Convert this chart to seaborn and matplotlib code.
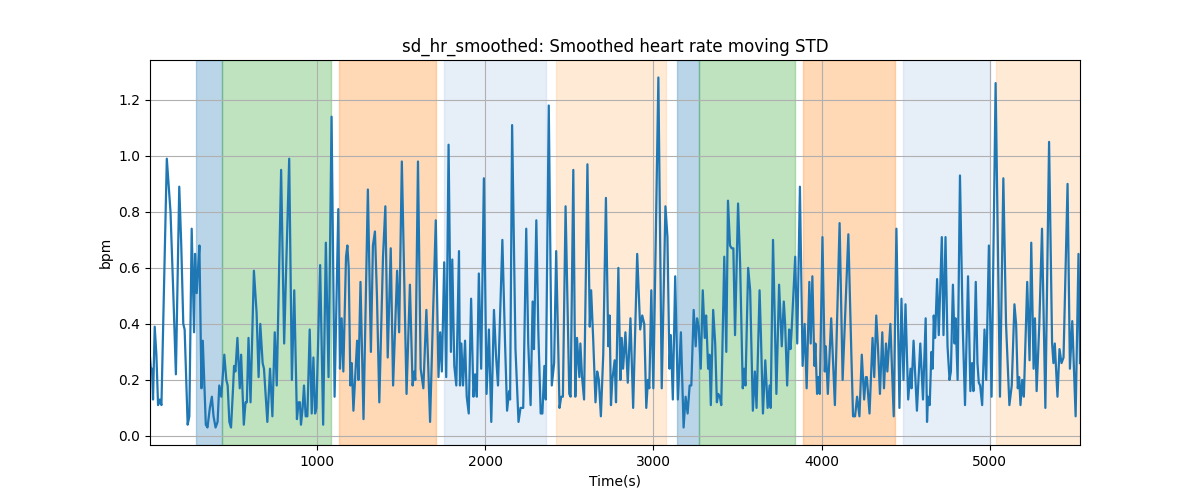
import numpy as np
import pandas as pd
import matplotlib
matplotlib.use("Agg")
import matplotlib.pyplot as plt
import seaborn as sns

# ---- data ----
time_s = [
    5, 10, 17, 23, 33, 43, 53, 63, 73, 105, 127, 143, 159, 179, 191, 203, 211, 229, 239, 253,
    267, 273, 283, 291, 299, 311, 319, 337, 347, 361, 373, 383, 395, 407, 417, 429, 447, 459, 467, 477,
    487, 499, 505, 513, 525, 539, 547, 563, 573, 581, 591, 603, 623, 639, 651, 661, 675, 683, 703, 719,
    733, 747, 759, 785, 803, 815, 833, 849, 863, 879, 889, 897, 903, 913,
    921, 931, 941, 955, 967, 977, 987, 995, 1017, 1035, 1051, 1067, 1085, 1103, 1125, 1135, 1145, 1155,
    1171, 1179, 1187, 1197, 1205, 1215, 1227, 1237, 1245, 1257, 1275, 1301, 1319, 1331, 1343, 1355, 1369,
    1391, 1405, 1419, 1437, 1451, 1475, 1487, 1503, 1531, 1551, 1567, 1577, 1583, 1599, 1615, 1631,
    1649, 1671, 1687, 1705, 1721, 1731, 1741, 1755, 1767, 1781, 1795, 1803, 1815, 1827, 1843,
    1849, 1857, 1867, 1879, 1889, 1901, 1915, 1929, 1939, 1949, 1961, 1975, 1991, 2007, 2021, 2035, 2051,
    2063, 2075, 2101, 2117, 2129, 2141, 2147, 2159, 2179, 2197, 2209, 2225, 2243, 2255, 2269, 2281, 2289,
    2303, 2315, 2329, 2339, 2351, 2359, 2377, 2395, 2409, 2421, 2441, 2451, 2461, 2477, 2499, 2507, 2523,
    2535, 2545, 2559, 2565, 2575, 2587, 2607, 2621, 2629, 2641, 2655, 2665, 2675, 2687, 2701, 2717, 2731,
    2739, 2747, 2755, 2769,
    2777, 2791, 2803, 2811, 2819, 2833, 2847, 2863, 2879, 2903, 2921, 2933, 2945, 2957, 2967, 2975, 2987,
    2999, 3029, 3049, 3071, 3083, 3095, 3103, 3115, 3129, 3145, 3163, 3179, 3191, 3203, 3215, 3225, 3239,
    3251, 3259, 3269, 3281, 3293, 3305, 3313, 3325, 3333, 3341, 3355, 3367, 3377, 3385, 3395, 3403, 3421,
    3433, 3443, 3455, 3465, 3475, 3485, 3503, 3515, 3531, 3539, 3547, 3563, 3575, 3591, 3603, 3613, 3631,
    3639, 3651, 3665, 3679, 3691, 3697,
    3711, 3731, 3747, 3763, 3775, 3783, 3795, 3807, 3815, 3821, 3843, 3855, 3871, 3887, 3899, 3911, 3927,
    3935, 3945, 3957, 3963, 3973, 3981, 3989, 4005, 4019, 4025, 4037, 4057, 4079, 4107, 4125, 4159, 4177,
    4187, 4199, 4211, 4225, 4239, 4253, 4263, 4269, 4285, 4303, 4313, 4325, 4335, 4347, 4361, 4371, 4383,
    4391, 4409, 4429, 4445, 4463, 4475, 4487, 4499, 4515, 4529, 4535, 4547, 4567, 4587, 4603, 4619,
    4627, 4633, 4643, 4653, 4661, 4667, 4675, 4687, 4697, 4715, 4725, 4737, 4749, 4761, 4769, 4781, 4791,
    4797, 4809, 4823, 4839, 4853, 4871, 4885, 4895, 4903, 4917, 4927, 4935, 4943, 4955, 4969, 4979, 4995,
    5011, 5035, 5061, 5081, 5097, 5117, 5131, 5147, 5157, 5167, 5175, 5183, 5193, 5203, 5223, 5237, 5247,
    5261, 5269, 5279, 5295, 5311, 5331, 5353, 5371, 5379, 5387, 5403, 5415, 5427, 5439, 5463, 5477, 5491,
    5511, 5528, 5537,
]

sd_hr = [
    0.28, 0.24, 0.24, 0.13, 0.39, 0.29, 0.11, 0.13, 0.11, 0.99, 0.80, 0.52, 0.22, 0.89, 0.68, 0.40, 0.38, 0.04, 0.07, 0.74,
    0.37, 0.65, 0.51, 0.60, 0.68, 0.17, 0.34, 0.04, 0.03, 0.10, 0.14, 0.07, 0.03, 0.05, 0.18, 0.14, 0.29, 0.20, 0.18, 0.05,
    0.03, 0.17, 0.25, 0.23, 0.35, 0.17, 0.29, 0.04, 0.12, 0.12, 0.35, 0.12, 0.59, 0.44, 0.21, 0.40, 0.26, 0.24, 0.05, 0.24,
    0.07, 0.37, 0.18, 0.95, 0.33, 0.60, 0.99, 0.20, 0.52, 0.06, 0.12, 0.12, 0.04, 0.10,
    0.18, 0.07, 0.07, 0.38, 0.08, 0.28, 0.08, 0.10, 0.61, 0.04, 0.69, 0.21, 1.14, 0.14, 0.81, 0.24, 0.42, 0.23,
    0.64, 0.68, 0.60, 0.18, 0.26, 0.09, 0.23, 0.34, 0.20, 0.55, 0.06, 0.88, 0.30, 0.68, 0.73, 0.50, 0.12,
    0.64, 0.82, 0.28, 0.67, 0.18, 0.59, 0.37, 0.98, 0.15, 0.54, 0.18, 0.23, 0.20, 0.98, 0.24, 0.17,
    0.45, 0.05, 0.40, 0.77, 0.21, 0.37, 0.23, 0.62, 0.21, 1.04, 0.30, 0.63, 0.25, 0.18, 0.66,
    0.18, 0.33, 0.18, 0.34, 0.14, 0.08, 0.49, 0.14, 0.22, 0.14, 0.58, 0.24, 0.92, 0.15, 0.38, 0.05, 0.45,
    0.29, 0.18, 0.70, 0.33, 0.09, 0.16, 0.13, 1.11, 0.31, 0.05, 0.10, 0.10, 0.74, 0.33, 0.11, 0.48, 0.31,
    0.77, 0.37, 0.08, 0.08, 0.25, 0.13, 1.18, 0.18, 0.26, 0.66, 0.10, 0.14, 0.14, 0.82, 0.15, 0.14, 0.95,
    0.14, 0.35, 0.21, 0.33, 0.21, 0.13, 0.97, 0.39, 0.52, 0.35, 0.12, 0.23, 0.20, 0.07, 0.29, 0.85, 0.32,
    0.43, 0.11, 0.20, 0.27,
    0.12, 0.60, 0.20, 0.35, 0.24, 0.37, 0.19, 0.42, 0.10, 0.65, 0.38, 0.43, 0.40, 0.10, 0.20, 0.17, 0.52,
    0.17, 1.28, 0.17, 0.82, 0.71, 0.24, 0.36, 0.13, 0.57, 0.13, 0.37, 0.03, 0.14, 0.08, 0.18, 0.18, 0.45,
    0.32, 0.42, 0.39, 0.24, 0.52, 0.35, 0.43, 0.24, 0.29, 0.11, 0.45, 0.33, 0.12, 0.15, 0.14, 0.11, 0.64,
    0.30, 0.84, 0.68, 0.67, 0.67, 0.36, 0.83, 0.62, 0.17, 0.24, 0.18, 0.60, 0.52, 0.09, 0.23, 0.10, 0.52,
    0.36, 0.08, 0.27, 0.10, 0.18, 0.10,
    0.70, 0.15, 0.54, 0.32, 0.48, 0.40, 0.18, 0.38, 0.31, 0.37, 0.64, 0.33, 0.89, 0.25, 0.40, 0.17, 0.55,
    0.33, 0.57, 0.25, 0.33, 0.15, 0.21, 0.15, 0.71, 0.23, 0.32, 0.15, 0.42, 0.11, 0.76, 0.20, 0.72, 0.29,
    0.07, 0.07, 0.14, 0.07, 0.29, 0.13, 0.21, 0.21, 0.08, 0.35, 0.21, 0.43, 0.32, 0.15, 0.37, 0.17, 0.33,
    0.23, 0.40, 0.07, 0.74, 0.10, 0.49, 0.20, 0.47, 0.13, 0.24, 0.17, 0.34, 0.09, 0.33, 0.13, 0.42,
    0.05, 0.14, 0.11, 0.30, 0.24, 0.43, 0.35, 0.56, 0.36, 0.71, 0.36, 0.71, 0.32, 0.20, 0.23, 0.54, 0.33,
    0.42, 0.20, 0.93, 0.40, 0.11, 0.57, 0.16, 0.26, 0.16, 0.55, 0.26, 0.19, 0.18, 0.11, 0.38, 0.20, 0.68,
    0.14, 1.26, 0.14, 0.92, 0.40, 0.11, 0.18, 0.47, 0.40, 0.17, 0.21, 0.11, 0.20, 0.14, 0.55, 0.27, 0.69,
    0.24, 0.42, 0.16, 0.40, 0.74, 0.10, 1.05, 0.33, 0.26, 0.33, 0.14, 0.31, 0.26, 0.28, 0.90, 0.24, 0.41,
    0.07, 0.65, 0.26,
]

# shaded phases
span_start = [279, 436, 1129, 1755, 2423, 3140, 3271, 3891, 4486, 5040]
span_end = [436, 1080, 1706, 2361, 3077, 3271, 3842, 4436, 5000, 5600]
span_phase = ["p1", "p2", "p3", "p4", "p5", "p1", "p2", "p3", "p4", "p5"]

phase_style = {
    "p1": ("#1f77b4", 0.3),
    "p2": ("#2ca02c", 0.3),
    "p3": ("#ff7f0e", 0.3),
    "p4": ("#aec7e8", 0.3),
    "p5": ("#ffbb78", 0.3),
}

df = pd.DataFrame({"Time(s)": time_s, "bpm": sd_hr})

fig, ax = plt.subplots(figsize=(12, 5), dpi=100)

for s, e, p in zip(span_start, span_end, span_phase):
    c, a = phase_style[p]
    ax.axvspan(s, e, color=c, alpha=a)

sns.lineplot(data=df, x="Time(s)", y="bpm", ax=ax, color="tab:blue",
             linewidth=1.6, estimator=None, sort=False)

ax.set_xlim(min(time_s), max(time_s))
ax.grid(True)
ax.set_title("sd_hr_smoothed: Smoothed heart rate moving STD")
ax.set_xlabel("Time(s)")
ax.set_ylabel("bpm")

fig.savefig("out.png", dpi=100)
